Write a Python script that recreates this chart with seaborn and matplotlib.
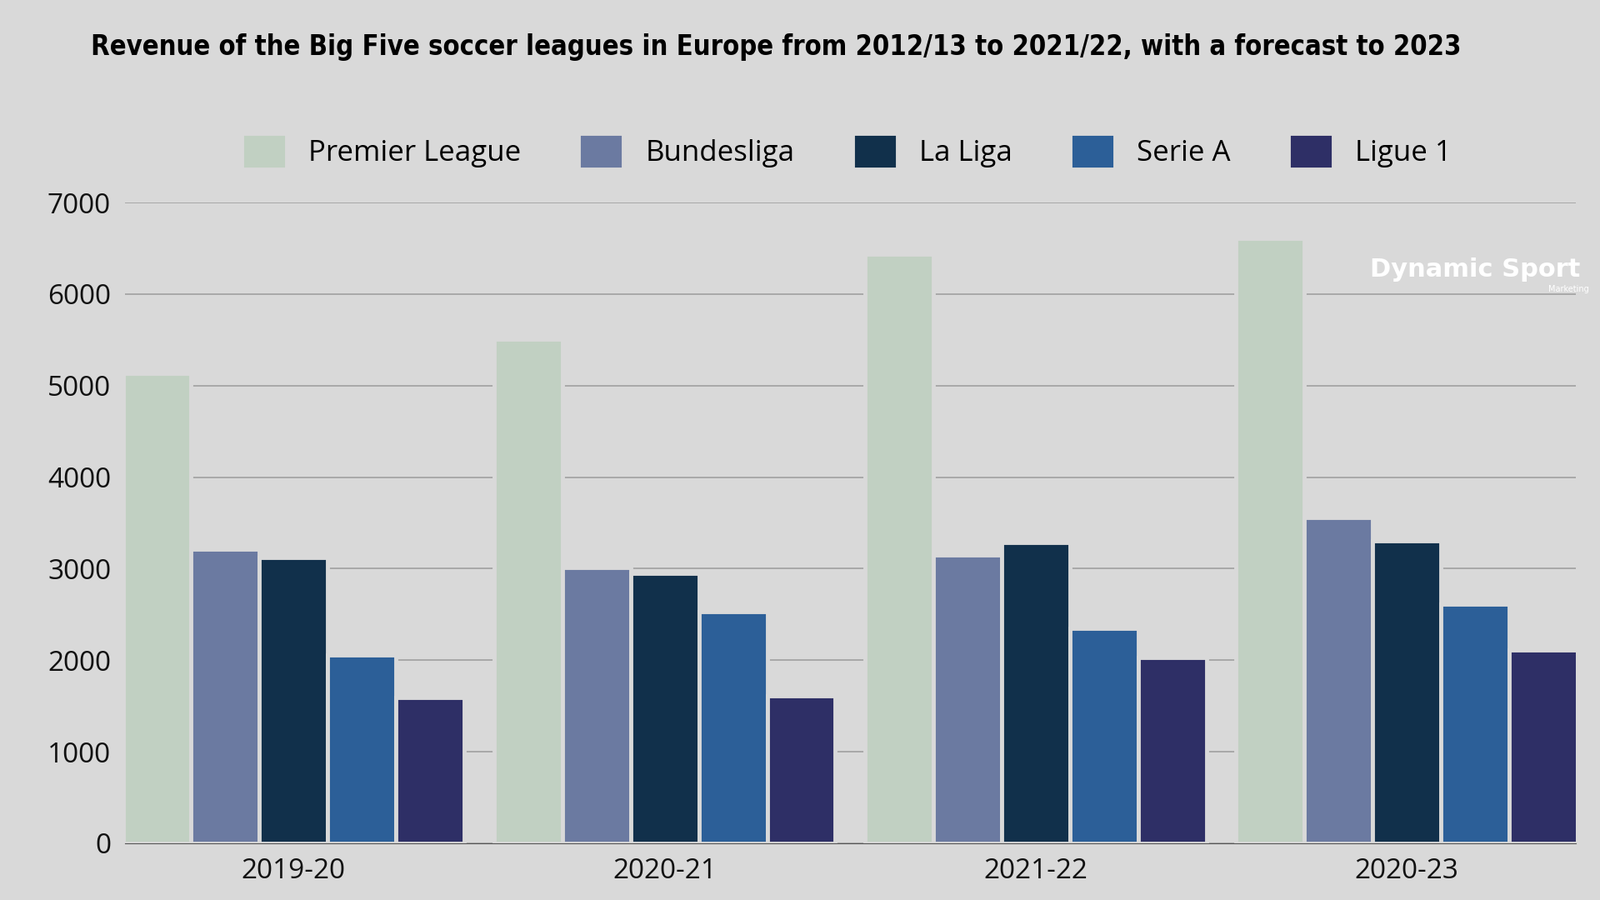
import matplotlib
matplotlib.use("Agg")
import matplotlib.pyplot as plt
import seaborn as sns
import pandas as pd

seasons = ["2019-20", "2020-21", "2021-22", "2020-23"]
leagues = ["Premier League", "Bundesliga", "La Liga", "Serie A", "Ligue 1"]
premier_league = [5130, 5510, 6440, 6610]
bundesliga = [3210, 3010, 3150, 3560]
la_liga = [3120, 2950, 3290, 3300]
serie_a = [2060, 2530, 2350, 2610]
ligue_1 = [1590, 1610, 2030, 2110]
colors = ["#c1d0c2", "#6b7aa1", "#11304b", "#2c5f98", "#2e2f66"]

rows = []
for lg, vals in zip(leagues, [premier_league, bundesliga, la_liga, serie_a, ligue_1]):
    for s, v in zip(seasons, vals):
        rows.append({"Season": s, "League": lg, "Revenue": v})
df = pd.DataFrame(rows)

bg = "#d9d9d9"
fig = plt.figure(figsize=(19.2, 10.8), dpi=100, facecolor=bg)
ax = fig.add_axes([0.078, 0.063, 0.907, 0.712], facecolor=bg)
sns.barplot(data=df, x="Season", y="Revenue", hue="League", hue_order=leagues,
            palette=colors, width=0.92, ax=ax, edgecolor=bg, linewidth=3.5,
            saturation=1, legend=True)
ax.set_ylim(0, 7000)
ax.set_xlim(-0.455, 3.456)
ax.set_yticks(range(0, 7001, 1000))
ax.yaxis.grid(True, color="#a0a0a0", linewidth=1.2)
ax.set_axisbelow(True)
for sp in ["top", "right", "left"]:
    ax.spines[sp].set_visible(False)
ax.spines["bottom"].set_color("#555555")
ax.tick_params(axis="both", length=0, labelsize=24, colors="#111111", pad=12)
ax.set_xlabel("")
ax.set_ylabel("")
for t in ax.get_xticklabels() + ax.get_yticklabels():
    t.set_fontfamily("Open Sans")
ax.get_legend().remove()
handles, labels = ax.get_legend_handles_labels()
fig.legend(handles[:5], labels[:5], loc="center", bbox_to_anchor=(0.529, 0.832), ncol=5,
           frameon=False, prop={"family": "Open Sans", "size": 25}, handlelength=1.55,
           handleheight=1.55, columnspacing=2.0, handletextpad=0.75)
fig.text(0.057, 0.948, "Revenue of the Big Five soccer leagues in Europe from 2012/13 to 2021/22, with a forecast to 2023",
         fontsize=23.5, fontweight="bold", fontstretch="condensed", family="Liberation Sans Narrow",
         color="black", va="center")
fig.text(0.922, 0.700, "Dynamic Sport", fontsize=22, fontweight="bold", color="white",
         ha="center", va="center", family="DejaVu Sans")
fig.text(0.993, 0.679, "Marketing", fontsize=7, color="white", ha="right", va="center")
fig.savefig("out.png", dpi=100, facecolor=bg)
